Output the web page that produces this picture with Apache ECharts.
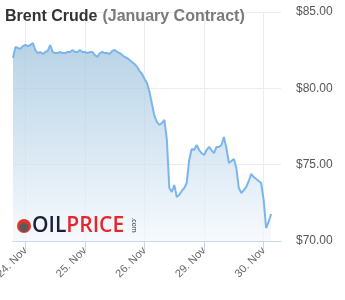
<!DOCTYPE html>
<html>
<head>
<meta charset="utf-8">
<script src="https://cdn.jsdelivr.net/npm/echarts@6/dist/echarts.min.js"></script>
<style>html,body{margin:0;padding:0;background:#fff}#c{width:345px;height:300px}</style>
</head>
<body>
<div id="c"></div>
<script>
// hourly samples (trading hours), starting 23 Nov 19:00
const dayLabels = ['24. Nov', '25. Nov', '26. Nov', '29. Nov', '30. Nov'];
const dayStartIndex = [5, 29, 53, 77, 101];
const prices = [
  81.99, 82.71, 82.64, 82.58, 82.77, 82.84, 82.77, 82.84, 82.97, 82.51,
  82.31, 82.38, 82.25, 82.38, 82.45, 82.84, 82.38, 82.31, 82.31, 82.38,
  82.31, 82.31, 82.38, 82.38, 82.51, 82.38, 82.38, 82.51, 82.38, 82.38,
  82.31, 82.38, 82.38, 82.18, 82.05, 82.31, 82.38, 82.31, 82.31, 82.25,
  82.45, 82.51, 82.38, 82.31, 82.18, 82.05, 81.99, 81.86, 81.72, 81.59,
  81.40, 81.13, 80.94, 80.61, 80.35, 79.76, 78.97, 78.19, 77.79, 77.60,
  77.73, 77.93, 76.62, 73.47, 73.21, 73.67, 72.88, 73.01, 73.28, 73.47,
  73.80, 75.31, 76.03, 75.96, 76.29, 75.96, 75.76, 75.63, 75.96, 76.16,
  75.96, 75.76, 76.16, 76.16, 76.29, 76.81, 76.09, 75.11, 75.24, 75.37,
  74.78, 73.47, 73.14, 73.34, 73.54, 73.93, 74.39, 74.19, 74.06, 73.93,
  73.80, 72.69, 70.85, 71.25, 71.77
];
const totalSlots = 109;
const yMin = 70, yMax = 85, yStep = 5;

const categories = [];
for (let i = 0; i < totalSlots; i++) {
  const k = dayStartIndex.indexOf(i);
  categories.push(k >= 0 ? dayLabels[k] : 'h' + i);
}
const seriesData = categories.map((c, i) => i < prices.length ? prices[i] : null);
const isDay = (i) => dayStartIndex.indexOf(i) >= 0;

const chart = echarts.init(document.getElementById('c'), null, {renderer: 'canvas'});
chart.setOption({
  animation: false,
  backgroundColor: '#ffffff',
  title: {
    text: '{a|Brent Crude} {b|(January Contract)}',
    left: 5, top: 8, padding: 0,
    textStyle: {
      rich: {
        a: {fontFamily: 'Liberation Sans, Arial, sans-serif', fontSize: 16, fontWeight: 'bold', color: '#333333'},
        b: {fontFamily: 'Liberation Sans, Arial, sans-serif', fontSize: 16, fontWeight: 'bold', color: '#7a7a7a'}
      }
    }
  },
  grid: {left: 13, right: 64, top: 12, bottom: 59, containLabel: false, outerBoundsMode: 'none'},
  xAxis: {
    type: 'category',
    data: categories,
    boundaryGap: false,
    axisLine: {lineStyle: {color: '#ccd6eb', width: 1}},
    axisTick: {show: true, interval: (i) => isDay(i), length: 10, lineStyle: {color: '#ccd6eb'}},
    axisLabel: {
      interval: (i) => isDay(i),
      rotate: 45,
      color: '#666666',
      fontSize: 11,
      fontFamily: 'Liberation Sans, Arial, sans-serif',
      margin: 8
    },
    splitLine: {show: true, interval: (i) => isDay(i), lineStyle: {color: '#ececec', width: 1}}
  },
  yAxis: {
    type: 'value',
    position: 'right',
    min: yMin, max: yMax, interval: yStep,
    axisLine: {show: false},
    axisTick: {show: false},
    axisLabel: {
      formatter: (v) => '$' + v.toFixed(2),
      color: '#555555',
      fontSize: 12,
      fontFamily: 'Liberation Sans, Arial, sans-serif',
      margin: 15,
      align: 'left'
    },
    splitLine: {lineStyle: {color: '#ececec', width: 1}}
  },
  series: [{
    type: 'line',
    data: seriesData,
    showSymbol: false,
    connectNulls: false,
    lineStyle: {color: '#7cb5ec', width: 2},
    areaStyle: {
      origin: 'start',
      color: new echarts.graphic.LinearGradient(0, 0, 0, 1, [
        {offset: 0, color: '#99c0dc'},
        {offset: 1, color: '#f3f8fd'}
      ])
    },
    z: 2
  }],
  graphic: [
    {type: 'circle', shape: {cx: 24, cy: 226, r: 7}, style: {fill: '#e3342c'}, z: 10},
    {type: 'circle', shape: {cx: 24, cy: 227.5, r: 4.5}, style: {fill: '#5a5a5a'}, z: 11},
    {type: 'text', x: 32, y: 226, z: 10, style: {
      text: '{o|OIL}{p|PRICE}', verticalAlign: 'middle',
      rich: {
        o: {fontFamily: 'Open Sans, Noto Sans, sans-serif', fontSize: 21, fontWeight: 600, fill: '#1b1f3b'},
        p: {fontFamily: 'Open Sans, Noto Sans, sans-serif', fontSize: 21, fontWeight: 600, fill: '#e5272d'}
      }
    }},
    {type: 'text', x: 134, y: 225, rotation: -Math.PI / 2, z: 10, style: {
      text: '.com', fontSize: 7, fontFamily: 'Liberation Sans, Arial, sans-serif', fill: '#333333', align: 'center', verticalAlign: 'middle'
    }}
  ]
});
</script>
</body>
</html>
